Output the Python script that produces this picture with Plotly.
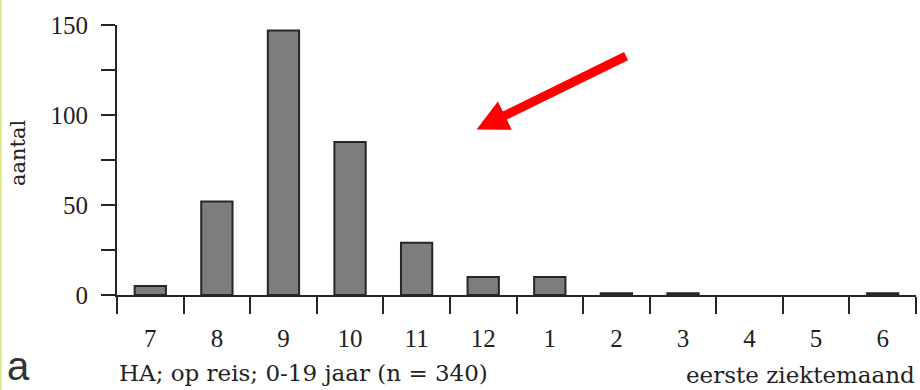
import plotly.graph_objects as go

months = ["7", "8", "9", "10", "11", "12", "1", "2", "3", "4", "5", "6"]
counts = [5, 52, 147, 85, 29, 10, 10, 1, 1, 0, 0, 1]
y_tickvals = [0, 25, 50, 75, 100, 125, 150]
y_ticktext = ["0", "", "50", "", "100", "", "150"]

L, R, T, B = 117, 4, 25, 95
W, H = 920, 390
pw, ph = W - L - R, H - T - B

num_font = dict(family="Liberation Serif", size=25, color="#222222")
txt_font = dict(family="DejaVu Serif", size=23, color="#222222")

fig = go.Figure(go.Bar(
    x=months, y=counts,
    marker=dict(color="#7d7d7d",
                line=dict(color="#262626", width=[2 if c > 0 else 0 for c in counts])),
    width=0.47,
))

fig.update_layout(
    width=W, height=H,
    margin=dict(l=L, r=R, t=T, b=B),
    paper_bgcolor="white", plot_bgcolor="white",
    showlegend=False,
    xaxis=dict(
        type="category", range=[-0.5, 11.5], automargin=False,
        showline=True, linecolor="#262626", linewidth=2,
        ticks="outside", tickson="boundaries", ticklen=17, tickwidth=2, tickcolor="#262626",
        showgrid=False, zeroline=False,
        tickfont=num_font, ticklabelstandoff=20,
    ),
    yaxis=dict(
        range=[0, 150], automargin=False,
        tickvals=y_tickvals, ticktext=y_ticktext,
        showline=True, linecolor="#262626", linewidth=2,
        ticks="outside", ticklen=14, tickwidth=2, tickcolor="#262626",
        showgrid=False, zeroline=False,
        tickfont=num_font, ticklabelstandoff=8,
    ),
)

annotations = [
    dict(text="aantal", textangle=-90, xref="paper", yref="paper",
         x=(18 - L) / pw, y=(H - B - 153) / ph, xanchor="center", yanchor="middle",
         showarrow=False, font=dict(family="DejaVu Serif", size=21, color="#222222")),
    dict(text="HA; op reis; 0-19 jaar (n = 340)", xref="paper", yref="paper",
         x=0, y=-(373 - (H - B)) / ph, xanchor="left", yanchor="middle",
         showarrow=False, font=txt_font),
    dict(text="eerste ziektemaand", xref="paper", yref="paper",
         x=(684 - L) / pw, y=-(375 - (H - B)) / ph, xanchor="left", yanchor="middle",
         showarrow=False, font=txt_font),
    dict(text="a", xref="paper", yref="paper",
         x=(18 - L) / pw, y=-(366 - (H - B)) / ph, xanchor="center", yanchor="middle",
         showarrow=False, font=dict(family="Liberation Sans", size=40, color="#333333")),
    dict(text="", x=4.9, y=92, xref="x", yref="y",
         showarrow=True, arrowhead=2, arrowcolor="#ff0000", arrowwidth=9,
         arrowsize=0.7, axref="pixel", ayref="pixel", ax=151, ay=-74),
]
fig.update_layout(annotations=annotations)

fig.add_shape(type="line", xref="paper", yref="paper",
              x0=-(L - 1) / pw, x1=-(L - 1) / pw, y0=-B / ph, y1=1 + T / ph,
              line=dict(color="#e3eb8a", width=2))

fig.write_html("out.html", config={"displayModeBar": False},
               post_script="document.body.style.margin='0';document.body.style.overflow='hidden';")
